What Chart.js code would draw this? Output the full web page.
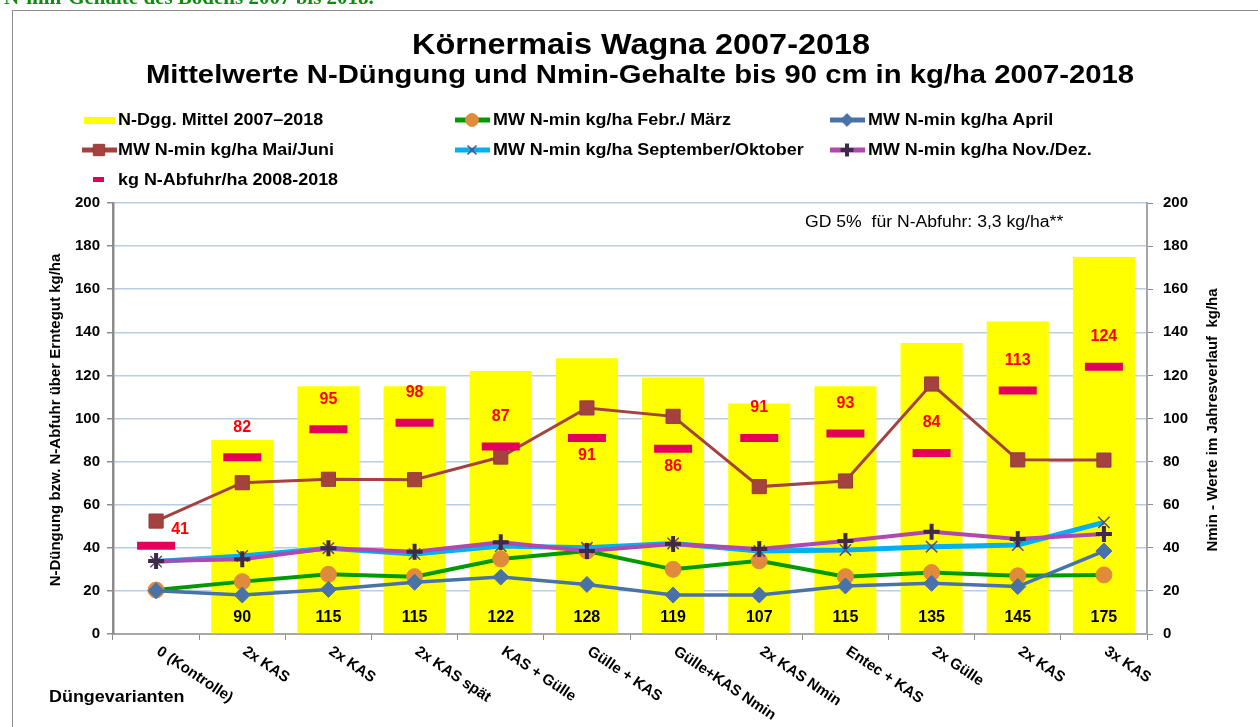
<!DOCTYPE html>
<html>
<head>
<meta charset="utf-8">
<script src="https://cdn.jsdelivr.net/npm/chart.js@4.4.0/dist/chart.umd.min.js"></script>
<style>
  html, body { margin: 0; padding: 0; background: #fff; }
  #wrap { position: relative; width: 1258px; height: 727px; overflow: hidden; }
</style>
</head>
<body>
<div id="wrap"><canvas id="myChart" width="1258" height="727"></canvas></div>
<script>
// categories (Düngevarianten)
var categories = ['0 (Kontrolle)', '2x KAS', '2x KAS', '2x KAS spät', 'KAS + Gülle', 'Gülle + KAS',
  'Gülle+KAS Nmin', '2x KAS Nmin', 'Entec + KAS', '2x Gülle', '2x KAS', '3x KAS'];

// N-Düngung Mittel 2007-2018 (bars)
var nDuengung = [0, 90, 115, 115, 122, 128, 119, 107, 115, 135, 145, 175];
// Nmin series
var nminFebMaerz = [20.4, 24.3, 27.7, 26.6, 34.8, 38.5, 30.0, 34.0, 26.6, 28.5, 27.0, 27.4];
var nminApril    = [20.1, 18.1, 20.7, 24.0, 26.4, 23.0, 18.1, 18.1, 22.3, 23.5, 22.0, 38.5];
var nminMaiJuni  = [52.4, 70.2, 71.8, 71.6, 82.1, 104.9, 101.0, 68.4, 71.0, 116.0, 80.8, 80.7];
var nminSeptOkt  = [33.6, 36.2, 39.8, 37.1, 40.8, 40.0, 42.0, 38.5, 39.0, 40.5, 41.3, 51.8];
var nminNovDez   = [33.9, 34.7, 39.8, 38.2, 42.6, 38.5, 41.8, 39.4, 43.2, 47.5, 44.1, 46.4];
// kg N-Abfuhr/ha 2008-2018
var nAbfuhr = [41, 82, 95, 98, 87, 91, 86, 91, 93, 84, 113, 124];

// axis ticks
var yMin = 0, yMax = 200, yStep = 20;

var FONT = '"Liberation Sans", Arial, sans-serif';

var colours = {
  yellow: '#ffff00',
  green: '#009a00',
  orange: '#e08a3c',
  blue: '#4872a8',
  brown: '#a3423e',
  cyan: '#00b0f0',
  purple: '#b048b0',
  darkPurple: '#3f2a4a',
  pink: '#e3005b',
  red: '#ff0000',
  grid: '#b9cde5',
  axis: '#8c8c8c'
};

var ctx = document.getElementById('myChart').getContext('2d');

// draw text stretched horizontally (the source picture is a bit wider than normal)
function wideText(c, text, x, y, sx) {
  c.save();
  c.translate(x, y);
  c.scale(sx, 1);
  c.fillText(text, 0, 0);
  c.restore();
}

// text, legend and labels drawn on top of the chart
var extras = {
  id: 'extras',
  afterDraw: function(chart) {
    var c = chart.ctx;
    var xs = chart.scales.x;
    var ys = chart.scales.y;
    c.save();

    // outer frame
    c.strokeStyle = '#8c8c8c';
    c.lineWidth = 1;
    c.strokeRect(12.5, 10.5, 1400, 900);

    // clipped heading above the frame
    c.fillStyle = '#108a10';
    c.font = 'bold 21px "Liberation Serif", serif';
    c.textAlign = 'left';
    c.textBaseline = 'alphabetic';
    c.fillText('N-min-Gehalte des Bodens 2007 bis 2018.', 4, 4);

    // titles
    c.fillStyle = '#000';
    c.textAlign = 'center';
    c.textBaseline = 'middle';
    c.font = 'bold 30px ' + FONT;
    wideText(c, 'Körnermais Wagna 2007-2018', 641, 46, 1.08);
    c.font = 'bold 25px ' + FONT;
    wideText(c, 'Mittelwerte N-Düngung und Nmin-Gehalte bis 90 cm in kg/ha 2007-2018', 640, 76, 1.17);

    // legend
    var ds = chart.data.datasets;
    var items = [
      { d: ds[6], lx: 84, tx: 118, y: 120, box: true },
      { d: ds[0], lx: 455, tx: 493, y: 120 },
      { d: ds[1], lx: 830, tx: 868, y: 120 },
      { d: ds[2], lx: 82, tx: 118, y: 150 },
      { d: ds[3], lx: 455, tx: 493, y: 150 },
      { d: ds[4], lx: 830, tx: 868, y: 150 },
      { d: ds[5], lx: 93, tx: 118, y: 180, dash: true }
    ];
    items.forEach(function(it) {
      var d = it.d;
      if (it.box) {
        c.fillStyle = d.backgroundColor;
        c.fillRect(it.lx, it.y - 3, 31, 7);
      } else if (it.dash) {
        c.fillStyle = d.pointBorderColor;
        c.fillRect(it.lx, it.y - 3, 11, 5);
      } else {
        c.strokeStyle = d.borderColor;
        c.lineWidth = 5;
        c.beginPath();
        c.moveTo(it.lx, it.y);
        c.lineTo(it.lx + 35, it.y);
        c.stroke();
        c.fillStyle = d.pointBackgroundColor;
        c.strokeStyle = d.pointBorderColor;
        c.lineWidth = d.pointBorderWidth;
        Chart.helpers.drawPoint(c, { pointStyle: d.pointStyle, radius: d.pointRadius * 0.8, borderWidth: d.pointBorderWidth, rotation: 0 }, it.lx + 17, it.y);
      }
      c.fillStyle = '#000';
      c.font = 'bold 16px ' + FONT;
      c.textAlign = 'left';
      c.textBaseline = 'middle';
      wideText(c, d.label, it.tx, it.y + 1, 1.12);
    });

    // GD note
    c.font = '16px ' + FONT;
    wideText(c, 'GD 5%  für N-Abfuhr: 3,3 kg/ha**', 805, 223, 1.1);

    // axis titles
    c.font = 'bold 15px ' + FONT;
    c.textAlign = 'center';
    c.save();
    c.translate(56, 420);
    c.rotate(-Math.PI / 2);
    c.fillText('N-Düngung bzw. N-Abfuhr über Erntegut kg/ha', 0, 0);
    c.restore();
    c.save();
    c.translate(1213, 420);
    c.rotate(-Math.PI / 2);
    c.fillText('Nmin - Werte im Jahresverlauf  kg/ha', 0, 0);
    c.restore();

    // x category labels, rotated downward
    c.font = 'bold 15px ' + FONT;
    c.textAlign = 'left';
    categories.forEach(function(lab, i) {
      var x = xs.getPixelForValue(i);
      c.save();
      c.translate(x + 2, 650);
      c.rotate(34 * Math.PI / 180);
      c.fillText(lab, 0, 0);
      c.restore();
    });
    c.font = 'bold 16px ' + FONT;
    wideText(c, 'Düngevarianten', 49, 698, 1.12);

    // bar values
    c.textAlign = 'center';
    c.font = 'bold 16px ' + FONT;
    nDuengung.forEach(function(v, i) {
      if (!v) return;
      c.fillText(String(v), xs.getPixelForValue(i), 618);
    });

    // Abfuhr values
    c.fillStyle = colours.red;
    nAbfuhr.forEach(function(v, i) {
      var x = xs.getPixelForValue(i);
      var y = ys.getPixelForValue(v);
      if (i === 0) { x += 24; y -= 16; }
      else if (i === 5 || i === 6) { y += 18; }
      else { y -= 30; }
      c.fillText(String(v), x, y);
    });

    c.restore();
  }
};

var chart = new Chart(ctx, {
  type: 'bar',
  data: {
    labels: categories,
    datasets: [{
      label: 'MW N-min kg/ha Febr./ März',
      type: 'line',
      yAxisID: 'y2',
      data: nminFebMaerz,
      borderColor: colours.green,
      borderWidth: 4,
      pointStyle: 'circle',
      pointRadius: 8,
      pointBackgroundColor: colours.orange,
      pointBorderColor: colours.orange,
      pointBorderWidth: 1,
      order: 5
    }, {
      label: 'MW N-min kg/ha April',
      type: 'line',
      yAxisID: 'y2',
      data: nminApril,
      borderColor: colours.blue,
      borderWidth: 3.5,
      pointStyle: 'rectRot',
      pointRadius: 8,
      pointBackgroundColor: colours.blue,
      pointBorderColor: colours.blue,
      pointBorderWidth: 1,
      order: 4
    }, {
      label: 'MW N-min kg/ha Mai/Juni',
      type: 'line',
      yAxisID: 'y2',
      data: nminMaiJuni,
      borderColor: colours.brown,
      borderWidth: 3,
      pointStyle: 'rect',
      pointRadius: 10,
      pointBackgroundColor: colours.brown,
      pointBorderColor: '#9a3a36',
      pointBorderWidth: 1,
      order: 2
    }, {
      label: 'MW N-min kg/ha September/Oktober',
      type: 'line',
      yAxisID: 'y2',
      data: nminSeptOkt,
      borderColor: colours.cyan,
      borderWidth: 5,
      pointStyle: 'crossRot',
      pointRadius: 8,
      pointBackgroundColor: '#604a7b',
      pointBorderColor: '#604a7b',
      pointBorderWidth: 1.5,
      order: 3
    }, {
      label: 'MW N-min kg/ha Nov./Dez.',
      type: 'line',
      yAxisID: 'y2',
      data: nminNovDez,
      borderColor: colours.purple,
      borderWidth: 4,
      pointStyle: 'cross',
      pointRadius: 8,
      pointBackgroundColor: colours.darkPurple,
      pointBorderColor: colours.darkPurple,
      pointBorderWidth: 4,
      order: 1
    }, {
      label: 'kg N-Abfuhr/ha 2008-2018',
      type: 'line',
      yAxisID: 'y',
      data: nAbfuhr,
      showLine: false,
      pointStyle: 'line',
      pointRadius: 19,
      pointBorderWidth: 8,
      pointBorderColor: colours.pink,
      pointBackgroundColor: colours.pink,
      order: 0
    }, {
      label: 'N-Dgg. Mittel 2007–2018',
      type: 'bar',
      yAxisID: 'y',
      data: nDuengung,
      backgroundColor: colours.yellow,
      categoryPercentage: 1,
      barPercentage: 0.72,
      order: 10
    }]
  },
  options: {
    responsive: false,
    animation: false,
    events: [],
    layout: { padding: { top: 203, left: 0, right: 0, bottom: 0 } },
    plugins: {
      legend: { display: false },
      title: { display: false },
      tooltip: { enabled: false }
    },
    scales: {
      x: {
        offset: true,
        grid: { display: true, drawOnChartArea: false, drawTicks: true, tickLength: 6, offset: true, color: colours.axis, lineWidth: 1 },
        border: { color: '#a6a6a6', width: 2 },
        ticks: { display: false },
        afterFit: function(s) { s.height = 93; }
      },
      y: {
        position: 'left',
        min: yMin, max: yMax,
        ticks: { stepSize: yStep, color: '#000', font: { family: FONT, size: 15, weight: 'bold' }, padding: 7 },
        grid: { color: colours.grid, lineWidth: 1.5, tickColor: colours.axis, tickLength: 6 },
        border: { color: colours.axis, width: 2.5 },
        afterFit: function(s) { s.width = 113; }
      },
      y2: {
        position: 'right',
        min: yMin, max: yMax,
        ticks: { stepSize: yStep, color: '#000', font: { family: FONT, size: 15, weight: 'bold' }, padding: 10 },
        grid: { drawOnChartArea: false, tickColor: colours.axis, tickLength: 6 },
        border: { color: '#a6a6a6', width: 2 },
        afterFit: function(s) { s.width = 111; }
      }
    }
  },
  plugins: [extras]
});
</script>
</body>
</html>
